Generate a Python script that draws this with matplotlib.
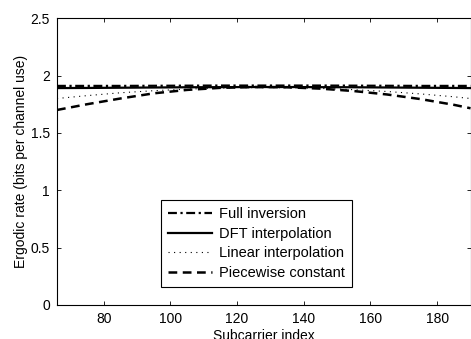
import numpy as np
import matplotlib
matplotlib.use('Agg')
import matplotlib.pyplot as plt

# subcarrier positions and ergodic rates
subcarrier = [66, 75, 85, 95, 105, 115, 125, 135, 145, 155, 165, 175, 185, 190]
full_inversion = [1.91, 1.91, 1.91, 1.911, 1.912, 1.913, 1.913, 1.913, 1.913, 1.912, 1.911, 1.91, 1.91, 1.91]
dft_interp = [1.891, 1.892, 1.894, 1.896, 1.898, 1.899, 1.90, 1.90, 1.899, 1.898, 1.896, 1.894, 1.892, 1.891]
linear_interp = [1.80, 1.825, 1.85, 1.868, 1.882, 1.891, 1.895, 1.894, 1.888, 1.877, 1.861, 1.84, 1.815, 1.80]
piecewise = [1.70, 1.75, 1.80, 1.845, 1.875, 1.893, 1.90, 1.898, 1.886, 1.865, 1.835, 1.795, 1.745, 1.715]

labels = ['Full inversion', 'DFT interpolation', 'Linear interpolation', 'Piecewise constant']
xticks = [80, 100, 120, 140, 160, 180]
yticks = [0, 0.5, 1, 1.5, 2, 2.5]

plt.rcParams['font.family'] = ['Liberation Sans', 'DejaVu Sans']
plt.rcParams['font.size'] = 10

fig = plt.figure(figsize=(4.71, 3.39), dpi=100)
ax = fig.add_axes([0.121, 0.1003, 0.878, 0.846])

ax.plot(subcarrier, full_inversion, color='black', lw=1.6, linestyle=(0, (4, 1.6, 1, 1.6)), label=labels[0])
ax.plot(subcarrier, dft_interp, color='black', lw=1.6, linestyle='-', label=labels[1])
ax.plot(subcarrier, linear_interp, color='black', lw=0.8, linestyle=(0, (1, 4)), label=labels[2])
ax.plot(subcarrier, piecewise, color='black', lw=1.8, linestyle=(0, (3.5, 2.2)), label=labels[3])

ax.set_xlim(66, 190)
ax.set_ylim(0, 2.5)
ax.set_xticks(xticks)
ax.set_yticks(yticks)
ax.set_yticklabels(['0', '0.5', '1', '1.5', '2', '2.5'])
ax.tick_params(direction='in', top=True, right=True, length=3, width=0.6, pad=5)
for s in ax.spines.values():
    s.set_linewidth(0.8)

# the reference crops the x label at the bottom edge
ax.set_xlabel('Subcarrier index', labelpad=2)
ax.set_ylabel('Ergodic rate (bits per channel use)', labelpad=2)

leg = ax.legend(loc='lower left', bbox_to_anchor=(0.342, 0.153), bbox_transform=fig.transFigure,
                borderaxespad=0, fancybox=False, edgecolor='black', framealpha=1, fontsize=10.5,
                handlelength=3.0, labelspacing=0.38, handletextpad=0.45, borderpad=0.5)
leg.get_frame().set_linewidth(0.8)

fig.savefig('out.png', dpi=100)
